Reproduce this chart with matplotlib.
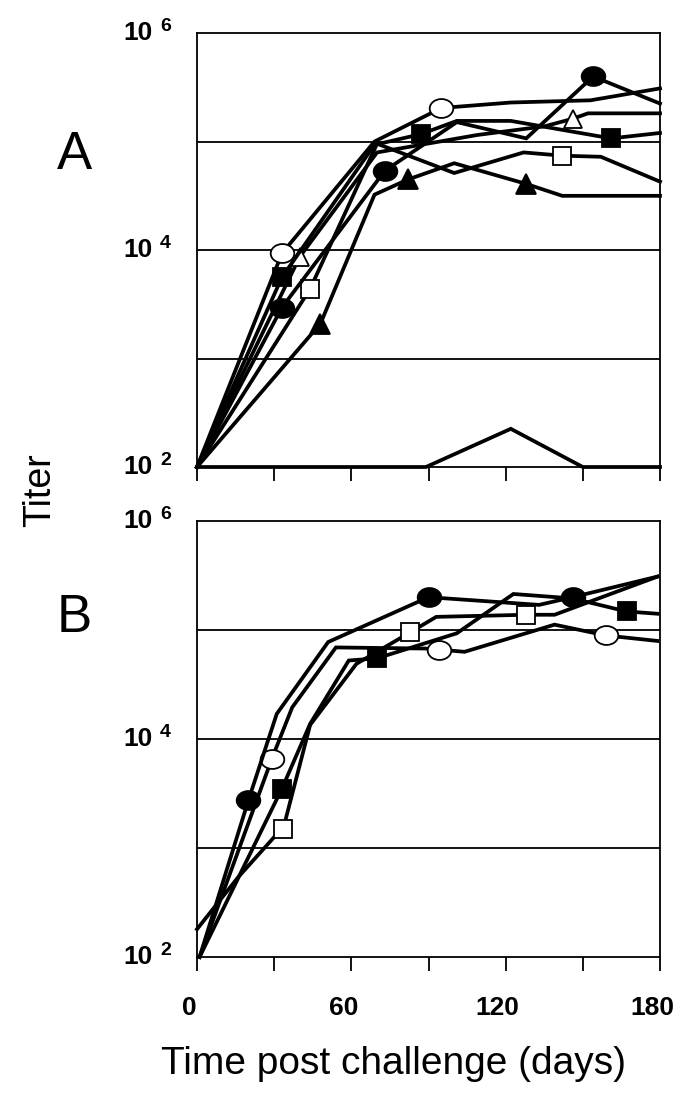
import matplotlib
matplotlib.use("Agg")
import matplotlib.pyplot as plt
from matplotlib.path import Path
from matplotlib.transforms import Affine2D, ScaledTranslation

plt.rcParams['font.family'] = ['Liberation Sans', 'DejaVu Sans']

# panel A: titer per animal over time (days post challenge)
a_open_circle_days = [0, 33, 69, 95, 122, 153, 180]
a_open_circle_titer = [100, 9300, 100000, 204000, 229000, 240000, 309000]
a_filled_circle_days = [0, 33, 73, 101, 128, 154, 180]
a_filled_circle_titer = [100, 2950, 53700, 151000, 107000, 398000, 224000]
a_open_tri_days = [0, 40, 70, 109, 135, 146, 152, 180]
a_open_tri_titer = [100, 8700, 79400, 115000, 138000, 162000, 182000, 182000]
a_filled_sq_days = [0, 33, 69, 87, 101, 122, 161, 180]
a_filled_sq_titer = [100, 5600, 93300, 117000, 155000, 155000, 107000, 120000]
a_open_sq_days = [0, 44, 70, 100, 127, 142, 157, 180]
a_open_sq_titer = [100, 4400, 95500, 51300, 79400, 74100, 72400, 42700]
a_filled_tri_days = [0, 48, 69, 82, 100, 128, 142, 180]
a_filled_tri_titer = [100, 2100, 32400, 44700, 63100, 40700, 31600, 31600]
a_control_days = [0, 89, 122, 150, 180]
a_control_titer = [100, 100, 225, 100, 100]

# panel B
b_open_circle_days = [1, 29, 37, 54, 89, 94, 104, 139, 159, 179]
b_open_circle_titer = [100, 6500, 19500, 69200, 67600, 66100, 63100, 112000, 89100, 79400]
b_filled_circle_days = [1, 20, 31, 51, 90, 133, 146, 179]
b_filled_circle_titer = [100, 2750, 17000, 77600, 200000, 170000, 200000, 309000]
b_filled_sq_days = [1, 33, 44, 59, 70, 101, 123, 146, 167, 179]
b_filled_sq_titer = [100, 3500, 13800, 52500, 55000, 93300, 214000, 195000, 148000, 141000]
b_open_sq_days = [0, 16, 30, 33.5, 44, 62, 83, 93, 128, 139, 179]
b_open_sq_titer = [180, 540, 1260, 1500, 13500, 49000, 95500, 132000, 138000, 138000, 309000]

x_ticks = [0, 30, 60, 90, 120, 150, 180]
x_tick_labels = ['0', '', '60', '', '120', '', '180']
grid_levels = [1e3, 1e4, 1e5]
label_exponents = [2, 4, 6]

# slightly wide ellipse for the circle symbols
ellipse = Path.unit_circle().transformed(Affine2D().scale(1.25, 1.0))
symbols = {
    'filled_circle': dict(marker=ellipse, markersize=17, markerfacecolor='black'),
    'open_circle': dict(marker=ellipse, markersize=17, markerfacecolor='white'),
    'filled_sq': dict(marker='s', markersize=13.5, markerfacecolor='black'),
    'open_sq': dict(marker='s', markersize=13.5, markerfacecolor='white'),
    'filled_tri': dict(marker='^', markersize=14.5, markerfacecolor='black'),
    'open_tri': dict(marker='^', markersize=13.5, markerfacecolor='white'),
    None: dict(marker=None),
}

panel_a = [
    (a_control_days, a_control_titer, None, None),
    (a_filled_tri_days, a_filled_tri_titer, 'filled_tri', [1, 3, 5]),
    (a_open_sq_days, a_open_sq_titer, 'open_sq', [1, 5]),
    (a_open_tri_days, a_open_tri_titer, 'open_tri', [1, 5]),
    (a_filled_sq_days, a_filled_sq_titer, 'filled_sq', [1, 3, 6]),
    (a_filled_circle_days, a_filled_circle_titer, 'filled_circle', [1, 2, 5]),
    (a_open_circle_days, a_open_circle_titer, 'open_circle', [1, 3]),
]
panel_b = [
    (b_open_sq_days, b_open_sq_titer, 'open_sq', [3, 6, 8]),
    (b_filled_sq_days, b_filled_sq_titer, 'filled_sq', [1, 4, 8]),
    (b_open_circle_days, b_open_circle_titer, 'open_circle', [1, 5, 8]),
    (b_filled_circle_days, b_filled_circle_titer, 'filled_circle', [1, 4, 6]),
]

fig = plt.figure(figsize=(6.85, 10.95), dpi=100)
ax_a = fig.add_axes([0.2876, 0.5735, 0.6759, 0.3963])
ax_b = fig.add_axes([0.2876, 0.1260, 0.6759, 0.3982])


def draw_panel(ax, series, show_labels):
    for lvl in grid_levels:
        ax.axhline(lvl, color='black', lw=1.3, zorder=0)
    for days, titer, sym, marks in series:
        ax.plot(days, titer, color='black', lw=2.7, markevery=marks,
                markeredgecolor='black', markeredgewidth=1.3,
                clip_on=False, solid_joinstyle='miter', **symbols[sym])
    ax.set_yscale('log')
    ax.set_xlim(0, 180)
    ax.set_ylim(1e2, 1e6)
    ax.set_yticks([])
    ax.minorticks_off()
    ax.set_xticks(x_ticks)
    ax.tick_params(axis='x', direction='out', length=10, width=1.3, pad=18)
    if show_labels:
        ax.set_xticklabels(x_tick_labels, fontsize=19, fontweight='bold')
        shift = ScaledTranslation(-8 / 100, 0, fig.dpi_scale_trans)
        for lab in ax.get_xticklabels():
            lab.set_transform(lab.get_transform() + shift)
    else:
        ax.set_xticklabels([])
    for sp in ax.spines.values():
        sp.set_linewidth(1.3)
    # "10" with raised exponent next to the axis
    for e in label_exponents:
        ax.annotate('10', xy=(0, 10.0 ** e), xycoords=('axes fraction', 'data'),
                    xytext=(-44 * 0.72, 0), textcoords='offset points',
                    ha='right', va='center', fontsize=19, fontweight='bold')
        ax.annotate(str(e), xy=(0, 10.0 ** e), xycoords=('axes fraction', 'data'),
                    xytext=(-37 * 0.72, 7 * 0.72), textcoords='offset points',
                    ha='left', va='center', fontsize=14, fontweight='bold')


draw_panel(ax_a, panel_a, False)
draw_panel(ax_b, panel_b, True)

fig.text(0.109, 0.858, 'A', fontsize=38, ha='center', va='center')
fig.text(0.109, 0.436, 'B', fontsize=38, ha='center', va='center')
fig.text(0.058, 0.5525, 'Titer', fontsize=27, rotation=90, ha='center', va='center')
fig.text(0.575, 0.028, 'Time post challenge (days)', fontsize=28, ha='center', va='center')

fig.savefig('out.png', dpi=100)
